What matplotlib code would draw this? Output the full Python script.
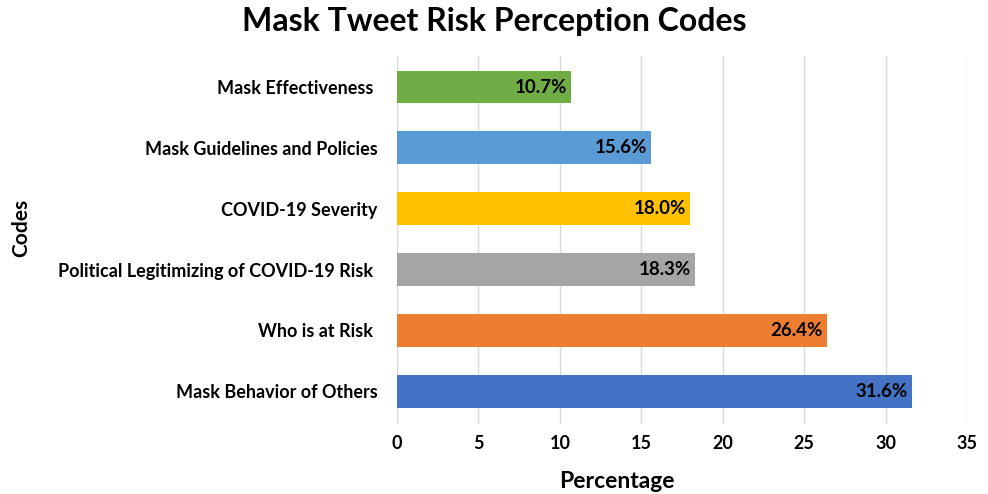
import matplotlib.pyplot as plt
import numpy as np

plt.rcParams['font.family'] = ['Lato', 'DejaVu Sans']

codes = ['Mask Behavior of Others', 'Who is at Risk ', 'Political Legitimizing of COVID-19 Risk ',
         'COVID-19 Severity', 'Mask Guidelines and Policies', 'Mask Effectiveness ']
values = [31.6, 26.4, 18.3, 18.0, 15.6, 10.7]
colors = ['#4472C4', '#ED7D31', '#A5A5A5', '#FFC000', '#5B9BD5', '#70AD47']

fig = plt.figure(figsize=(9.88, 4.94), dpi=100)
ax = fig.add_axes([0.4018, 0.1417, 0.5769, 0.7449])

y = np.arange(len(codes))
ax.barh(y, values, height=0.54, color=colors, zorder=2)
for yi, v in zip(y, values):
    ax.text(v - 0.25, yi, f'{v:.1f}%', ha='right', va='center',
            fontsize=13.5, fontweight='bold', color='black', zorder=3)

ax.set_xlim(0, 35)
ax.set_ylim(-0.54, 5.51)
ax.set_xticks(range(0, 36, 5))
ax.set_yticks(y)
ax.set_yticklabels(codes, fontsize=13, fontweight='bold')
for lbl in ax.get_xticklabels():
    lbl.set_fontweight('bold')
    lbl.set_fontsize(13)
ax.tick_params(axis='x', length=0, pad=8)
ax.tick_params(axis='y', length=0, pad=14)
ax.grid(axis='x', color='#D9D9D9', linewidth=1, zorder=0)
for s in ax.spines.values():
    s.set_visible(False)

fig.text(0.6245, 0.026, 'Percentage', ha='center', va='center',
         fontsize=16.5, fontweight='bold')
fig.text(0.022, 0.538, 'Codes', rotation=90, ha='center', va='center',
         fontsize=15, fontweight='bold')
fig.suptitle('Mask Tweet Risk Perception Codes', fontsize=23, fontweight='bold', y=0.985)

fig.savefig('out.png', dpi=100)
